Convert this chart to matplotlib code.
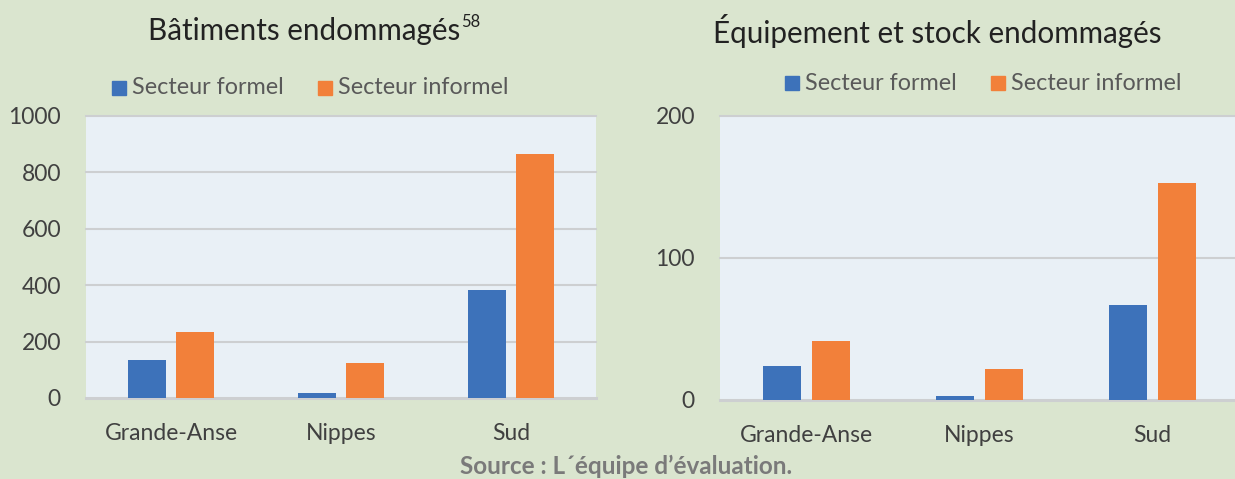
import numpy as np
import matplotlib
matplotlib.use('Agg')
import matplotlib.pyplot as plt
from matplotlib.patches import Rectangle

plt.rcParams['font.family'] = ['Lato', 'DejaVu Sans']

regions = ['Grande-Anse', 'Nippes', 'Sud']
series = ['Secteur formel', 'Secteur informel']

bat_formel = [135, 17, 382]
bat_informel = [235, 123, 865]

equip_formel = [24, 3, 67]
equip_informel = [41.5, 22, 153]

titles = ['Bâtiments endommagés', 'Équipement et stock endommagés']
source = 'Source : L´équipe d’évaluation.'

BG = '#DAE5CF'
PLOT_BG = '#E9F0F6'
BLUE = '#3D72BA'
ORANGE = '#F2803A'
GRID = '#CDCFD1'
TXT = '#404040'

W, H = 1235, 479
fig = plt.figure(figsize=(W / 100, H / 100), dpi=100, facecolor=BG)


def px_axes(left, right, top, bottom):
    return fig.add_axes([left / W, 1 - bottom / H, (right - left) / W,
                         (bottom - top) / H])


def draw_panel(ax, formel, informel, ymax, yticks):
    x = np.arange(len(regions))
    w = 0.224
    off = 0.141
    ax.set_facecolor(PLOT_BG)
    ax.bar(x - off, formel, w, color=BLUE, zorder=3)
    ax.bar(x + off, informel, w, color=ORANGE, zorder=3)
    ax.set_xlim(-0.5, 2.5)
    ax.set_ylim(0, ymax)
    ax.set_yticks(yticks)
    ax.set_xticks(x)
    ax.set_xticklabels(regions)
    for s in ax.spines.values():
        s.set_visible(False)
    ax.tick_params(length=0, labelsize=16.5, colors=TXT)
    ax.tick_params(axis='y', pad=18)
    ax.tick_params(axis='x', pad=18)
    for t in yticks:
        ax.axhline(t, color=GRID, lw=2.2 if t == 0 else 1.5, zorder=1,
                   clip_on=False)


ax1 = px_axes(86, 596, 116, 398)
draw_panel(ax1, bat_formel, bat_informel, 1000, [0, 200, 400, 600, 800, 1000])

ax2 = px_axes(720, 1239, 116, 400)
draw_panel(ax2, equip_formel, equip_informel, 200, [0, 100, 200])

# titles
t1 = fig.text(304 / W, 1 - 31 / H, titles[0], ha='center', va='center',
              fontsize=21.3, color='#222222')
fig.text(937 / W, 1 - 31 / H, titles[1], ha='center', va='center',
         fontsize=21.3, color='#222222')
fig.canvas.draw()
bb = t1.get_window_extent()
fig.text((bb.x1 + 1) / W, 1 - 22 / H, '58', ha='left', va='center',
         fontsize=12, color='#222222')


# legends
def legend(x0, y, gap):
    xs = x0
    for name, col in zip(series, [BLUE, ORANGE]):
        fig.patches.append(Rectangle((xs / W, 1 - (y + 7) / H), 14 / W,
                                     14 / H, transform=fig.transFigure,
                                     color=col))
        t = fig.text((xs + 20) / W, 1 - y / H, name, ha='left', va='center',
                     fontsize=16.8, color='#595959')
        fig.canvas.draw()
        xs = t.get_window_extent().x1 + gap


legend(112, 88, 34)
legend(785, 83, 34)

fig.text(626 / W, 1 - 466 / H, source, ha='center', va='center',
         fontsize=17.5, fontweight='bold', color='#7A7A7A')

fig.savefig('out.png', dpi=100, facecolor=BG)
